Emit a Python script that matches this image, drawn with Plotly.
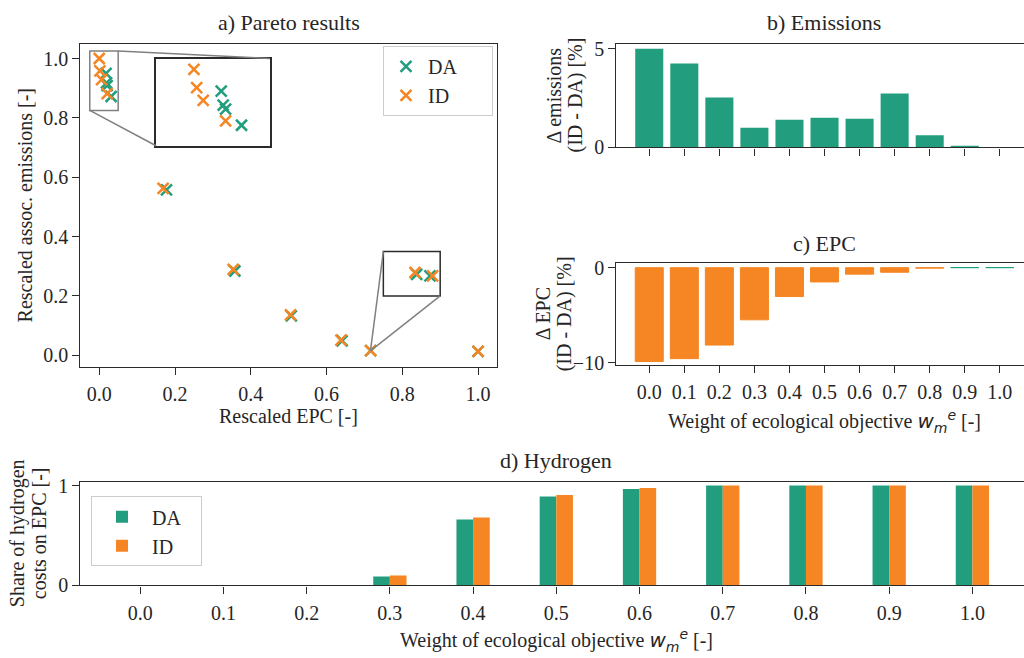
import plotly.graph_objects as go

# ---------------- data ----------------
GREEN = "#229e7e"
ORANGE = "#f58623"
FRAME = "#2b2b2b"
GREY = "#808080"
FONT = "Liberation Serif, Times New Roman, serif"

weight_labels = ["0.0", "0.1", "0.2", "0.3", "0.4", "0.5", "0.6", "0.7", "0.8", "0.9", "1.0"]
unit_ticks = [0, 0.2, 0.4, 0.6, 0.8, 1.0]
unit_labels = ["0.0", "0.2", "0.4", "0.6", "0.8", "1.0"]

# a) Pareto results (rescaled EPC, rescaled emissions)
pareto_da_x = [0.018, 0.0193, 0.0209, 0.0314, 0.1775, 0.358, 0.507, 0.641, 0.7165, 0.838, 0.873, 1.0]
pareto_da_y = [0.950, 0.918, 0.909, 0.872, 0.557, 0.284, 0.133, 0.049, 0.016, 0.273, 0.2675, 0.013]
pareto_id_x = [0.0, 0.0018, 0.0061, 0.0209, 0.1686, 0.3535, 0.505, 0.638, 0.7165, 0.8335, 0.880, 1.0]
pareto_id_y = [1.0, 0.958, 0.929, 0.882, 0.5626, 0.2895, 0.136, 0.051, 0.016, 0.279, 0.2675, 0.013]

# b) Delta emissions (ID - DA) [%]
emis_delta = [5.0, 4.26, 2.53, 1.00, 1.40, 1.50, 1.45, 2.73, 0.61, 0.07, 0.0]
# c) Delta EPC (ID - DA) [%]
epc_delta = [-9.86, -9.56, -8.13, -5.48, -3.03, -1.50, -0.68, -0.48, -0.05, 0.01, 0.01]
# d) share of hydrogen costs on EPC
h2_da = [0.0, 0.0, 0.0, 0.09, 0.66, 0.89, 0.965, 1.0, 1.0, 1.0, 1.0]
h2_id = [0.0, 0.0, 0.0, 0.10, 0.68, 0.905, 0.975, 1.0, 1.0, 1.0, 1.0]

# zoom regions in panel a
zoom1 = dict(x=[-0.025, 0.05], y=[0.825, 1.025])
inset1_at = dict(x=[0.15, 0.45], y=[0.706, 1.0])
zoom2 = dict(x=[0.75, 0.9], y=[0.2, 0.35])
zoom2_target = (0.716, 0.015)

# ---------------- layout helpers ----------------
W, H = 1024, 658


def px_x(p):
    return p / W


def px_y(p):
    return 1 - p / H


pos = list(range(len(weight_labels)))

a_xrange = [-0.05, 1.05]
a_yrange = [-0.04, 1.05]
a_xdom = [px_x(80.3), px_x(497)]
a_ydom = [px_y(370.3), px_y(37.7)]


def data_to_paper(xv, yv):
    fx = a_xdom[0] + (xv - a_xrange[0]) / (a_xrange[1] - a_xrange[0]) * (a_xdom[1] - a_xdom[0])
    fy = a_ydom[0] + (yv - a_yrange[0]) / (a_yrange[1] - a_yrange[0]) * (a_ydom[1] - a_ydom[0])
    return fx, fy


in_x0, in_y0 = data_to_paper(inset1_at["x"][0], inset1_at["y"][0])
in_x1, in_y1 = data_to_paper(inset1_at["x"][1], inset1_at["y"][1])

fig = go.Figure()

mk = dict(symbol="x-thin", size=11)
NB = "\u00a0"

# ---- a) scatter ----
fig.add_trace(go.Scatter(x=pareto_da_x, y=pareto_da_y, mode="markers", name="DA" + NB * 6,
                         marker=dict(mk, color=GREEN, line=dict(width=2.5, color=GREEN)),
                         xaxis="x", yaxis="y", legend="legend"))
fig.add_trace(go.Scatter(x=pareto_id_x, y=pareto_id_y, mode="markers", name="ID",
                         marker=dict(mk, color=ORANGE, line=dict(width=2.5, color=ORANGE)),
                         xaxis="x", yaxis="y", legend="legend"))
# inset
fig.add_trace(go.Scatter(x=pareto_da_x, y=pareto_da_y, mode="markers", showlegend=False,
                         marker=dict(mk, color=GREEN, line=dict(width=2.5, color=GREEN)),
                         xaxis="x5", yaxis="y5"))
fig.add_trace(go.Scatter(x=pareto_id_x, y=pareto_id_y, mode="markers", showlegend=False,
                         marker=dict(mk, color=ORANGE, line=dict(width=2.5, color=ORANGE)),
                         xaxis="x5", yaxis="y5"))

# ---- b) emissions ----
fig.add_trace(go.Bar(x=pos, y=emis_delta, width=0.8, marker=dict(color=GREEN, line=dict(width=0)),
                     showlegend=False, xaxis="x2", yaxis="y2"))

# ---- c) EPC ----
epc_colors = [GREEN if v >= 0 else ORANGE for v in epc_delta]
fig.add_trace(go.Bar(x=pos, y=epc_delta, width=0.8,
                     marker=dict(color=epc_colors, line=dict(width=1, color=epc_colors)),
                     showlegend=False, xaxis="x3", yaxis="y3"))

# ---- d) hydrogen ----
fig.add_trace(go.Bar(x=pos, y=h2_da, width=0.2, offset=-0.2, name="DA" + NB * 3,
                     marker=dict(color=GREEN, line=dict(width=0)),
                     xaxis="x4", yaxis="y4", legend="legend2"))
fig.add_trace(go.Bar(x=pos, y=h2_id, width=0.2, offset=0.0, name="ID",
                     marker=dict(color=ORANGE, line=dict(width=0)),
                     xaxis="x4", yaxis="y4", legend="legend2"))

axis_common = dict(showline=True, linecolor=FRAME, linewidth=1.3, ticks="outside", ticklen=7,
                   tickwidth=1.3, tickcolor=FRAME, showgrid=False, zeroline=False,
                   tickfont=dict(family=FONT, size=20, color="#262626"))
xcommon = dict(axis_common, ticklabelstandoff=2)

fig.update_layout(
    width=W, height=H, margin=dict(l=0, r=0, t=0, b=0),
    paper_bgcolor="white", plot_bgcolor="white",
    font=dict(family=FONT, size=20, color="#262626"),
    barmode="overlay",
    xaxis=dict(xcommon, domain=a_xdom, range=a_xrange, anchor="y", mirror=True,
               tickvals=unit_ticks, ticktext=unit_labels),
    yaxis=dict(axis_common, domain=a_ydom, range=a_yrange, anchor="x", mirror=True,
               tickvals=unit_ticks, ticktext=unit_labels),
    xaxis2=dict(xcommon, domain=[px_x(616.3), 1.0], range=[-0.94, 10.69], anchor="y2", mirror=True,
                tickvals=pos, showticklabels=False),
    yaxis2=dict(axis_common, domain=[px_y(144.3), px_y(37.7)], range=[0, 5.26], anchor="x2",
                tickvals=[0, 5]),
    xaxis3=dict(xcommon, domain=[px_x(616.3), 1.0], range=[-0.94, 10.69], anchor="y3", mirror=True,
                tickvals=pos, ticktext=weight_labels),
    yaxis3=dict(axis_common, domain=[px_y(368.3), px_y(263.3)], range=[-10.25, 0.48], anchor="x3",
                tickvals=[-10, 0]),
    xaxis4=dict(xcommon, domain=[px_x(80.3), 1.0], range=[-0.72, 10.62], anchor="y4", mirror=True,
                tickvals=pos, ticktext=weight_labels),
    yaxis4=dict(axis_common, domain=[px_y(594.7), px_y(488.3)], range=[0, 1.036], anchor="x4",
                tickvals=[0, 1]),
    xaxis5=dict(domain=[in_x0, in_x1], range=zoom1["x"], anchor="y5", showline=True, mirror=True,
                linecolor=FRAME, linewidth=1.5, ticks="", showticklabels=False, showgrid=False, zeroline=False),
    yaxis5=dict(domain=[in_y0, in_y1], range=zoom1["y"], anchor="x5", showline=True, mirror=True,
                linecolor=FRAME, linewidth=1.5, ticks="", showticklabels=False, showgrid=False, zeroline=False),
    legend=dict(x=px_x(383), y=px_y(40), xanchor="left", yanchor="top", bgcolor="white",
                bordercolor="#cccccc", borderwidth=1, font=dict(family=FONT, size=20),
                itemwidth=34, tracegroupgap=0),
    legend2=dict(x=px_x(91), y=px_y(503), xanchor="left", yanchor="top", bgcolor="white",
                 bordercolor="#cccccc", borderwidth=1, font=dict(family=FONT, size=20),
                 itemwidth=50),
)

# zoom marks in panel a
shapes = [
    dict(type="rect", xref="x", yref="y", x0=zoom1["x"][0], x1=zoom1["x"][1], y0=zoom1["y"][0], y1=zoom1["y"][1],
         line=dict(color=GREY, width=1.5)),
    dict(type="line", xref="x", yref="y", x0=zoom1["x"][1], y0=zoom1["y"][1], x1=inset1_at["x"][1], y1=inset1_at["y"][1],
         line=dict(color=GREY, width=1.5)),
    dict(type="line", xref="x", yref="y", x0=zoom1["x"][0], y0=zoom1["y"][0], x1=inset1_at["x"][0], y1=inset1_at["y"][0],
         line=dict(color=GREY, width=1.5)),
    dict(type="rect", xref="x", yref="y", x0=zoom2["x"][0], x1=zoom2["x"][1], y0=zoom2["y"][0], y1=zoom2["y"][1],
         line=dict(color=FRAME, width=1.5)),
    dict(type="line", xref="x", yref="y", x0=zoom2["x"][0], y0=zoom2["y"][1], x1=zoom2_target[0], y1=zoom2_target[1],
         line=dict(color=GREY, width=1.5)),
    dict(type="line", xref="x", yref="y", x0=zoom2["x"][1], y0=zoom2["y"][0], x1=zoom2_target[0], y1=zoom2_target[1],
         line=dict(color=GREY, width=1.5)),
]
fig.update_layout(shapes=shapes)

MATH = ('<span style="font-family:DejaVu Sans"><i>w</i><sub><i>m</i></sub>'
        '<sup><i>e</i></sup></span>')


def ann(text, px, py, size=20, angle=0):
    fig.add_annotation(text=text, x=px_x(px), y=px_y(py), xref="paper", yref="paper",
                       xanchor="center", yanchor="middle", showarrow=False, textangle=angle,
                       font=dict(family=FONT, size=size, color="#262626"))


ann("a) Pareto results", 288.6, 16, size=22)
ann("b) Emissions", 824, 16, size=22)
ann("c) EPC", 824, 243, size=22)
ann("d) Hydrogen", 556, 466, size=22)
ann("Rescaled EPC [-]", 288.6, 421)
ann("Rescaled assoc. emissions [-]", 25, 204, angle=-90)
ann("Δ emissions", 554, 91, angle=-90)
ann("(ID - DA) [%]", 576, 91, angle=-90)
ann("Δ EPC", 543, 316, angle=-90)
ann("(ID - DA) [%]", 564, 316, angle=-90)
ann("Weight of ecological objective " + MATH + " [-]", 824, 426)
ann("Weight of ecological objective " + MATH + " [-]", 556, 651)
ann("Share of hydrogen", 17, 541, angle=-90)
ann("costs on EPC [-]", 39, 541, angle=-90)

fig.write_html("out.html")
